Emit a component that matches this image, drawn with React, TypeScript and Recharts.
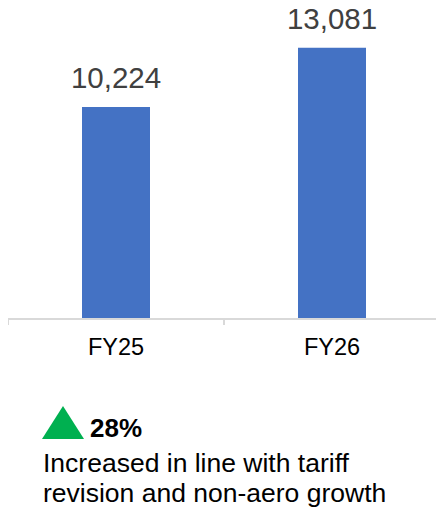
import React from "react";
import { BarChart, Bar, XAxis, YAxis, LabelList } from "recharts";

const categories = ["FY25", "FY26"];
const revenue = [10224, 13081];
const yDomain = [0, 15000];
const noteLines = ["Increased in line with tariff", "revision and non-aero growth"];

const data = categories.map((c, i) => ({ name: c, value: revenue[i] }));
const growthPct = Math.round((revenue[1] / revenue[0] - 1) * 100);

const FONT = "'Liberation Sans', Arial, Helvetica, sans-serif";

const CustomTick = (props: any) => {
  const { x, y, payload, index, visibleTicksCount } = props;
  const off = payload.offset || 0;
  const isLast = index === (visibleTicksCount ?? categories.length) - 1;
  return (
    <g>
      <line x1={x - off} x2={x - off} y1={y} y2={y + 6} stroke="#d9d9d9" strokeWidth={2} />
      {isLast && (
        <line x1={x + off} x2={x + off} y1={y} y2={y + 6} stroke="#d9d9d9" strokeWidth={2} />
      )}
      <text x={x} y={y + 36} textAnchor="middle" fontSize={23.5} fill="#000" fontFamily={FONT}>
        {payload.value}
      </text>
    </g>
  );
};

export default function App() {
  return (
    <div style={{ position: "fixed", left: 0, top: 0, width: 436, height: 512, overflow: "hidden", background: "#fff", fontFamily: FONT }}>
      <div style={{ position: "absolute", left: 8, top: 0 }}>
        <BarChart
          width={432}
          height={369}
          data={data}
          margin={{ top: 8, right: 0, left: 0, bottom: 0 }}
          barSize={68}
        >
          <XAxis
            dataKey="name"
            height={50}
            tickSize={0}
            tickMargin={0}
            tickLine={false}
            axisLine={{ stroke: "#d9d9d9", strokeWidth: 2 }}
            tick={<CustomTick />}
            interval={0}
          />
          <YAxis hide domain={yDomain} />
          <Bar dataKey="value" fill="#4472C4" isAnimationActive={false}>
            <LabelList
              dataKey="value"
              position="top"
              offset={19}
              fontSize={29.5}
              fill="#404040"
              fontFamily={FONT}
              formatter={(v: any) => Number(v).toLocaleString("en-US")}
            />
          </Bar>
        </BarChart>
      </div>
      <svg style={{ position: "absolute", left: 42, top: 406 }} width={42} height={33}>
        <polygon points="21,0 42,33 0,33" fill="#00B050" />
      </svg>
      <div style={{ position: "absolute", left: 90, top: 413, fontSize: 26, lineHeight: "30px", fontWeight: 700, color: "#000" }}>
        {growthPct}%
      </div>
      <div style={{ position: "absolute", left: 43, top: 448, fontSize: 26.5, lineHeight: "30px", color: "#000", whiteSpace: "nowrap" }}>
        {noteLines.map((l) => (
          <div key={l}>{l}</div>
        ))}
      </div>
    </div>
  );
}
